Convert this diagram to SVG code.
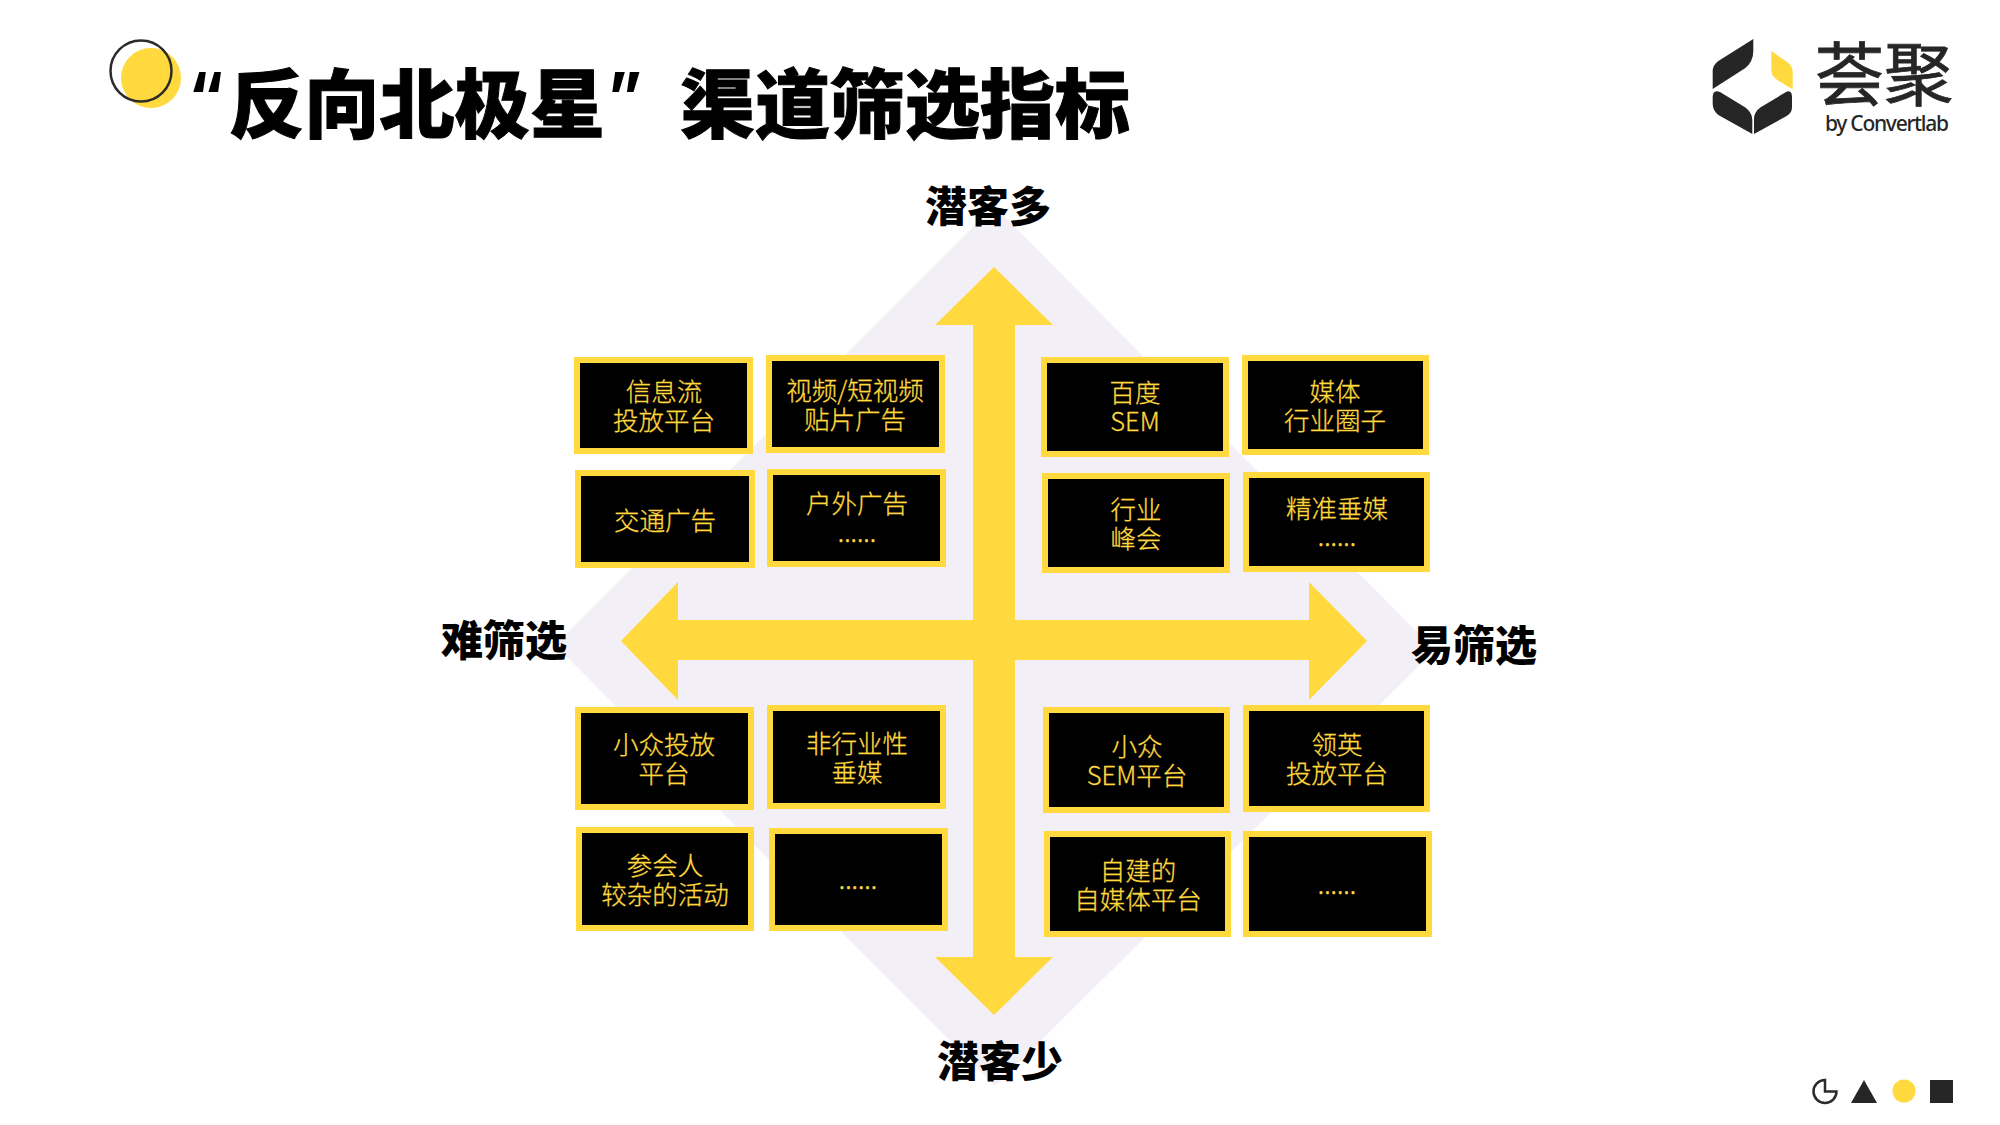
<svg xmlns="http://www.w3.org/2000/svg" width="2000" height="1125" viewBox="0 0 2000 1125">
<style>
.box{fill:#000;stroke:#ffd93d;stroke-width:6}
.t{font-family:"Noto Sans CJK SC","Noto Sans",sans-serif;font-weight:300;font-size:25.5px;fill:#ffd93d;stroke:#ffd93d;stroke-width:.3;text-anchor:middle}
.b{font-family:"Noto Sans CJK SC","Noto Sans",sans-serif;font-weight:900;font-size:42px;fill:#000}
.h{font-family:"Noto Sans CJK SC",sans-serif;font-weight:900;font-size:75px;fill:#000;stroke:#000;stroke-width:1}
.q{font-family:Inter,"Noto Sans",sans-serif;font-weight:700;font-size:66px;fill:#000}
.y{fill:#ffd93d}
.d{fill:#262626}
</style>
<rect width="2000" height="1125" fill="#fff"/>
<polygon id="backdrop" points="994,206 1435,650 995,1086 555,645" fill="#f2f0f6"/>
<g id="title-mark">
<circle class="y" cx="151" cy="78" r="30"/>
<circle cx="141" cy="71" r="30.500" fill="none" stroke="#2b2b2b" stroke-width="2.500"/>
</g>
<g id="title">
<text class="q" x="188" y="120">“</text>
<text class="h" x="229" y="132" textLength="376" lengthAdjust="spacing">反向北极星</text>
<text class="q" x="607" y="120">”</text>
<text class="h" x="680" y="132" textLength="450" lengthAdjust="spacing">渠道筛选指标</text>
</g>
<g id="logo">
<g transform="translate(1690 20) scale(.33333)">
<path class="d" d="M190 57V92Q190 125 165 145L68 207V155Q68 135 85 123Z"/>
<path class="y" d="M244 93L290 125Q308 137 308 155V208L262 180Q244 168 244 150Z"/>
<path class="d" d="M68 232Q68 208 90 216L165 262Q187 278 187 300V342L85 285Q68 272 68 250Z"/>
<path class="d" d="M192 342V298Q192 276 212 262L288 216Q306 208 306 232V262Q306 280 290 288Z"/>
</g>
<text x="1815" y="100" font-family="'Noto Sans CJK SC',sans-serif" font-size="69" fill="#262626" stroke="#262626" stroke-width=".8" textLength="138">荟聚</text>
<text x="1825" y="131" font-family="'Noto Sans',sans-serif" font-size="21" font-weight="500" fill="#262626" textLength="124" lengthAdjust="spacing">by Convertlab</text>
</g>
<g id="connectors">
<polygon id="arrow-up" class="y" points="994,267 1053,325 1015,325 1015,641 973,641 973,325 935,325"/>
<polygon id="arrow-down" class="y" points="994,1015 1053,957 1015,957 1015,640 973,640 973,957 935,957"/>
<polygon id="arrow-left" class="y" points="621,641 678,582 678,620 995,620 995,660 678,660 678,700"/>
<polygon id="arrow-right" class="y" points="1367,641 1309,582 1309,620 990,620 990,660 1309,660 1309,700"/>
</g>
<g id="axis-top"><text class="b" x="925" y="222">潜客多</text></g>
<g id="axis-bottom"><text class="b" x="937" y="1077">潜客少</text></g>
<g id="axis-left"><text class="b" x="441" y="656">难筛选</text></g>
<g id="axis-right"><text class="b" x="1411" y="661">易筛选</text></g>
<g id="n1"><rect class="box" x="577" y="360" width="173" height="91"/><text class="t" x="664" y="401">信息流</text><text class="t" x="664" y="430">投放平台</text></g>
<g id="n2"><rect class="box" x="769" y="358" width="173" height="92"/><text class="t" x="855" y="400">视频/短视频</text><text class="t" x="855" y="429">贴片广告</text></g>
<g id="n3"><rect class="box" x="578" y="473" width="174" height="92"/><text class="t" x="665" y="530">交通广告</text></g>
<g id="n4"><rect class="box" x="770" y="472" width="173" height="92"/><text class="t" x="857" y="513">户外广告</text><text class="t" x="857" y="542">......</text></g>
<g id="n5"><rect class="box" x="1044" y="360" width="182" height="94"/><text class="t" x="1135" y="402">百度</text><text class="t" x="1135" y="431">SEM</text></g>
<g id="n6"><rect class="box" x="1245" y="358" width="181" height="94"/><text class="t" x="1335" y="401">媒体</text><text class="t" x="1335" y="430">行业圈子</text></g>
<g id="n7"><rect class="box" x="1045" y="476" width="182" height="94"/><text class="t" x="1136" y="519">行业</text><text class="t" x="1136" y="548">峰会</text></g>
<g id="n8"><rect class="box" x="1246" y="475" width="181" height="94"/><text class="t" x="1337" y="518">精准垂媒</text><text class="t" x="1337" y="546">......</text></g>
<g id="n9"><rect class="box" x="578" y="710" width="173" height="97"/><text class="t" x="664" y="754">小众投放</text><text class="t" x="664" y="783">平台</text></g>
<g id="n10"><rect class="box" x="770" y="708" width="173" height="98"/><text class="t" x="857" y="753">非行业性</text><text class="t" x="857" y="782">垂媒</text></g>
<g id="n11"><rect class="box" x="579" y="830" width="172" height="98"/><text class="t" x="665" y="875">参会人</text><text class="t" x="665" y="904">较杂的活动</text></g>
<g id="n12"><rect class="box" x="772" y="831" width="173" height="97"/><text class="t" x="858" y="889">......</text></g>
<g id="n13"><rect class="box" x="1046" y="710" width="181" height="100"/><text class="t" x="1137" y="756">小众</text><text class="t" x="1137" y="785">SEM平台</text></g>
<g id="n14"><rect class="box" x="1246" y="708" width="181" height="101"/><text class="t" x="1337" y="754">领英</text><text class="t" x="1337" y="783">投放平台</text></g>
<g id="n15"><rect class="box" x="1047" y="834" width="181" height="100"/><text class="t" x="1138" y="880">自建的</text><text class="t" x="1138" y="909">自媒体平台</text></g>
<g id="n16"><rect class="box" x="1246" y="834" width="183" height="100"/><text class="t" x="1337" y="894">......</text></g>
<g id="footer-icons">
<path d="M1825 1080A11.500 11.500 0 1 0 1836.500 1091.500H1825Z" fill="none" stroke="#2b2b2b" stroke-width="2.500"/>
<polygon class="d" points="1864,1080 1851,1103 1877,1103"/>
<circle class="y" cx="1904" cy="1091" r="11.500"/>
<rect class="d" x="1930" y="1080" width="23" height="23"/>
</g>
</svg>
